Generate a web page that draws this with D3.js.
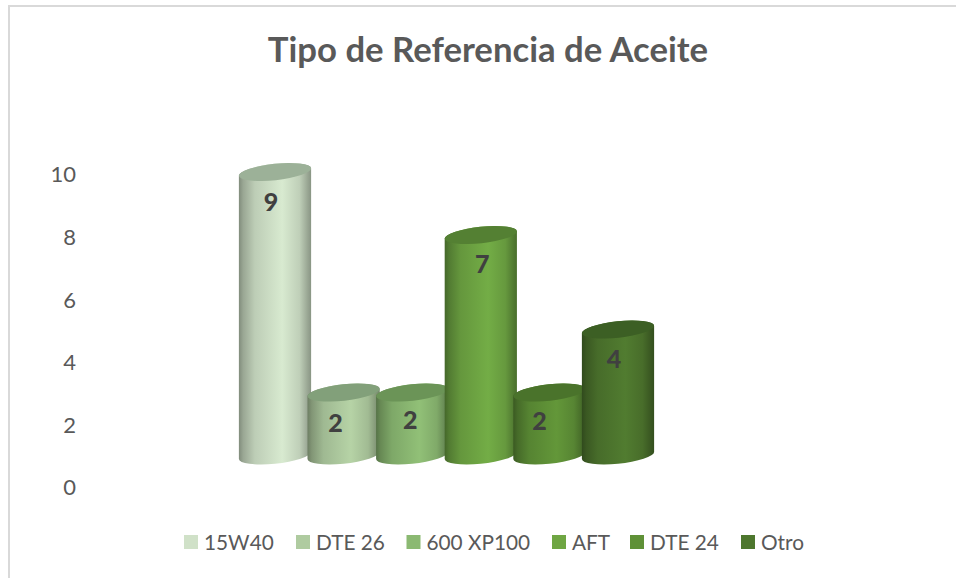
<!DOCTYPE html>
<html>
<head>
<meta charset="utf-8">
<script src="https://cdn.jsdelivr.net/npm/d3@7/dist/d3.min.js"></script>
<style>
html,body{margin:0;padding:0;background:#fff;}
svg{display:block;}
text{font-family:Lato,"Open Sans",sans-serif;}
</style>
</head>
<body>
<div id="chart"></div>
<script>
const titleText = "Tipo de Referencia de Aceite";
const categories = ["15W40","DTE 26","600 XP100","AFT","DTE 24","Otro"];
const values = [9,2,2,7,2,4];
const yTicks = [0,2,4,6,8,10];
const bodyColors = ["#D0E1C8","#AFCBA0","#8BB972","#6FA643","#5F9137","#4E772E"];
const capColors = ["#9CB198","#82A07A","#6B9457","#548033","#4A732B","#3C5F24"];
const legendStarts = [184,296,406.5,552,630,741];
const labelNudgeX = [-4,-8,-2,1.5,-10,-4];
const labelNudgeY = [2,3,0,1,1,2];

const W = 956, H = 578;
const svg = d3.select("#chart").append("svg").attr("width",W).attr("height",H);
const defs = svg.append("defs");

svg.append("path").attr("d",`M9,${H} L9,6 L${W},6`).attr("fill","none").attr("stroke","#D9D9D9").attr("stroke-width",2);

svg.append("text").attr("x",488).attr("y",62).attr("text-anchor","middle")
  .attr("font-size",34.7).attr("font-weight",700).attr("fill","#595959").text(titleText);

// axis labels sit in front of the 3D floor
const yAxisScale = d3.scaleLinear().domain([0,10]).range([487,174]);
const axis = d3.axisLeft(yAxisScale).tickValues(yTicks).tickSize(0).tickPadding(0);
const gAxis = svg.append("g").attr("transform","translate(76,0)").call(axis);
gAxis.select(".domain").remove();
gAxis.selectAll("text").attr("font-size",22).attr("fill","#595959")
  .style("font-family","Lato,'Open Sans',sans-serif").attr("dy","0.36em");

// bars
const x = d3.scaleBand().domain(categories).range([239,239+68.6*6]).paddingInner(0).paddingOuter(0);
const barW = 72;
const yBar = d3.scaleLinear().domain([0,10]).range([455.5,140.5]);
const rx = 36.3, ry = 8.2, rotDeg = -6, th = rotDeg*Math.PI/180;

// extreme points in x of the rotated ellipse
const t = Math.atan2(-ry*Math.sin(th), rx*Math.cos(th));
const ex = rx*Math.cos(t)*Math.cos(th) - ry*Math.sin(t)*Math.sin(th);
const ey = rx*Math.cos(t)*Math.sin(th) + ry*Math.sin(t)*Math.cos(th);

const scaleColor = (c,k)=>{const r=d3.rgb(c);return d3.rgb(r.r*k,r.g*k,r.b*k).formatHex();};
const stops = [[0,0.62],[0.06,0.74],[0.22,0.91],[0.6,1.04],[0.84,0.92],[0.95,0.74],[1,0.66]];

bodyColors.forEach((c,i)=>{
  const g = defs.append("linearGradient").attr("id","g"+i).attr("x1","0").attr("x2","1").attr("y1","0").attr("y2","0");
  stops.forEach(s=>g.append("stop").attr("offset",s[0]).attr("stop-color",scaleColor(c,s[1])));
});

const bars = svg.append("g").selectAll("g").data(values).join("g");
bars.each(function(v,i){
  const cx = x(categories[i]) + barW/2;
  const yt = yBar(v), yb = yBar(0);
  const g = d3.select(this);
  g.append("path").attr("fill",`url(#g${i})`)
    .attr("d",`M${cx-ex},${yt-ey} L${cx-ex},${yb-ey} A${rx},${ry} ${rotDeg} 0 0 ${cx+ex},${yb+ey} L${cx+ex},${yt+ey} A${rx},${ry} ${rotDeg} 0 0 ${cx-ex},${yt-ey} Z`);
  g.append("ellipse").attr("cx",cx).attr("cy",yt).attr("rx",rx).attr("ry",ry)
    .attr("transform",`rotate(${rotDeg} ${cx} ${yt})`).attr("fill",capColors[i]);
});

// data labels, drawn above all the bars
svg.append("g").selectAll("text").data(values).join("text")
  .attr("x",(v,i)=>x(categories[i])+barW/2+labelNudgeX[i])
  .attr("y",(v,i)=>yBar(v)+27.5+labelNudgeY[i])
  .attr("dy","0.36em").attr("text-anchor","middle")
  .attr("font-size",25).attr("font-weight",900).attr("fill","#404040")
  .text(v=>v);

// legend
const legend = svg.append("g").selectAll("g").data(categories).join("g")
  .attr("transform",(d,i)=>`translate(${legendStarts[i]},535)`);
legend.append("rect").attr("width",14).attr("height",14).attr("fill",(d,i)=>bodyColors[i]);
legend.append("text").attr("x",20).attr("y",7).attr("dy","0.36em")
  .attr("font-size",20.8).attr("fill","#595959").text(d=>d);
</script>
</body>
</html>
